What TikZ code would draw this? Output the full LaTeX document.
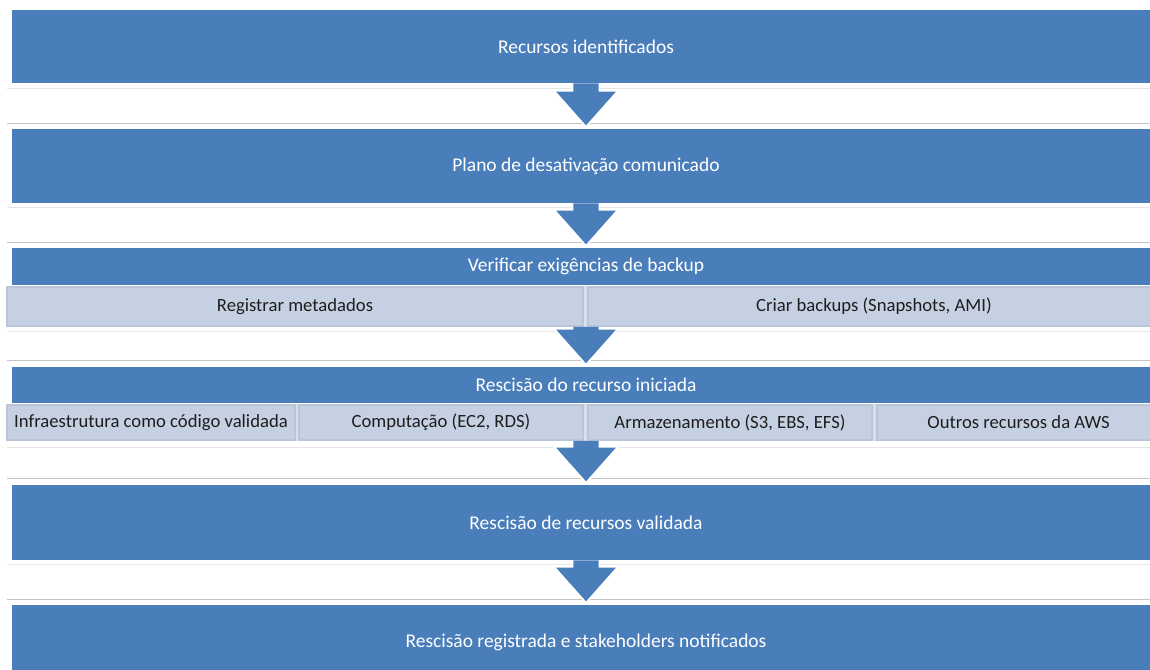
\documentclass[tikz,border=0pt]{standalone}
\usepackage{fontspec}
\setmainfont{Carlito}
\usetikzlibrary{calc}
\definecolor{bblue}{HTML}{4A7EBB}
\definecolor{sfill}{HTML}{C6D0E3}
\definecolor{sline}{HTML}{BAC5DA}
\definecolor{strip}{HTML}{D8DEEA}
\definecolor{glight}{HTML}{E6E6E6}
\definecolor{gdark}{HTML}{C4C4C4}
\definecolor{stext}{HTML}{1E1E1E}
\tikzset{
  bluebox/.style={fill=bblue, draw=none, text=white, inner sep=0pt,
    minimum width=861pt, font=\fontsize{14.6}{17}\selectfont},
  subbox/.style={fill=sfill, draw=sline, line width=1.2pt, text=stext, inner sep=0pt,
    font=\fontsize{14}{17}\selectfont},
  blockarr/.style={fill=bblue, draw=white, line width=1.2pt, line join=miter},
  sepline/.style={line width=0.75pt}
}
\begin{document}
\begin{tikzpicture}[x=0.75pt,y=-0.75pt]
\useasboundingbox (0,0) rectangle (1150,670);
% faint separator lines
\foreach \a/\b in {89/124, 208/243, 332/361, 447/478, 564/599}{
  \draw[sepline, glight] (7,\a) -- (1150,\a);
  \draw[sepline, gdark] (7,\b) -- (1150,\b);
}
% main boxes
\node[bluebox, minimum height=54.75pt] (b1) at (586,46.5) {Recursos identificados};
\node[bluebox, minimum height=55.5pt] (b2) at (586,166) {Plano de desativação comunicado};
\node[bluebox, minimum height=27.75pt] (b3) at (586,266.5) {Verificar exigências de backup};
\fill[strip] (7,286) rectangle (1160,327);
\node[subbox, minimum width=432pt, minimum height=29.25pt] (s31) at (295,306.5) {Registrar metadados};
\node[subbox, minimum width=429pt, minimum height=29.25pt] (s32) at (874,306.5) {Criar backups (Snapshots, AMI)};
\node[bluebox, minimum height=27pt] (b4) at (586,385) {Rescisão do recurso iniciada};
\fill[strip] (7,404) rectangle (1160,441);
\node[subbox, minimum width=216pt, minimum height=26.25pt] (s41) at (151,422.5) {Infraestrutura como código validada};
\node[subbox, minimum width=213pt, minimum height=26.25pt] (s42) at (441,422.5) {Computação (EC2, RDS)};
\node[subbox, minimum width=213pt, minimum height=26.25pt] (s43) at (730,422.5) {Armazenamento (S3, EBS, EFS)};
\node[subbox, minimum width=212pt, minimum height=26.25pt] (s44) at (1018.5,422.5) {Outros recursos da AWS};
\node[bluebox, minimum height=56.25pt] (b5) at (586,522.5) {Rescisão de recursos validada};
\node[bluebox, minimum height=56.25pt] (b6) at (586,642.5) {Rescisão registrada e stakeholders notificados};
% block arrows
\foreach \u/\l in {b1.south/b2.north, b2.south/b3.north, s31.south -| b3.south/b4.north, s42.south -| b4.south/b5.north, b5.south/b6.north}{
  \filldraw[blockarr] let \p1=(\u), \p2=($(\l)+(0,-2)$) in
    (\x1-10pt,\y1) -- (\x1-10pt,\y2+27pt) -- (\x1-24pt,\y2+27pt) -- (\x1,\y2)
    -- (\x1+24pt,\y2+27pt) -- (\x1+10pt,\y2+27pt) -- (\x1+10pt,\y1);
}
\end{tikzpicture}
\end{document}
